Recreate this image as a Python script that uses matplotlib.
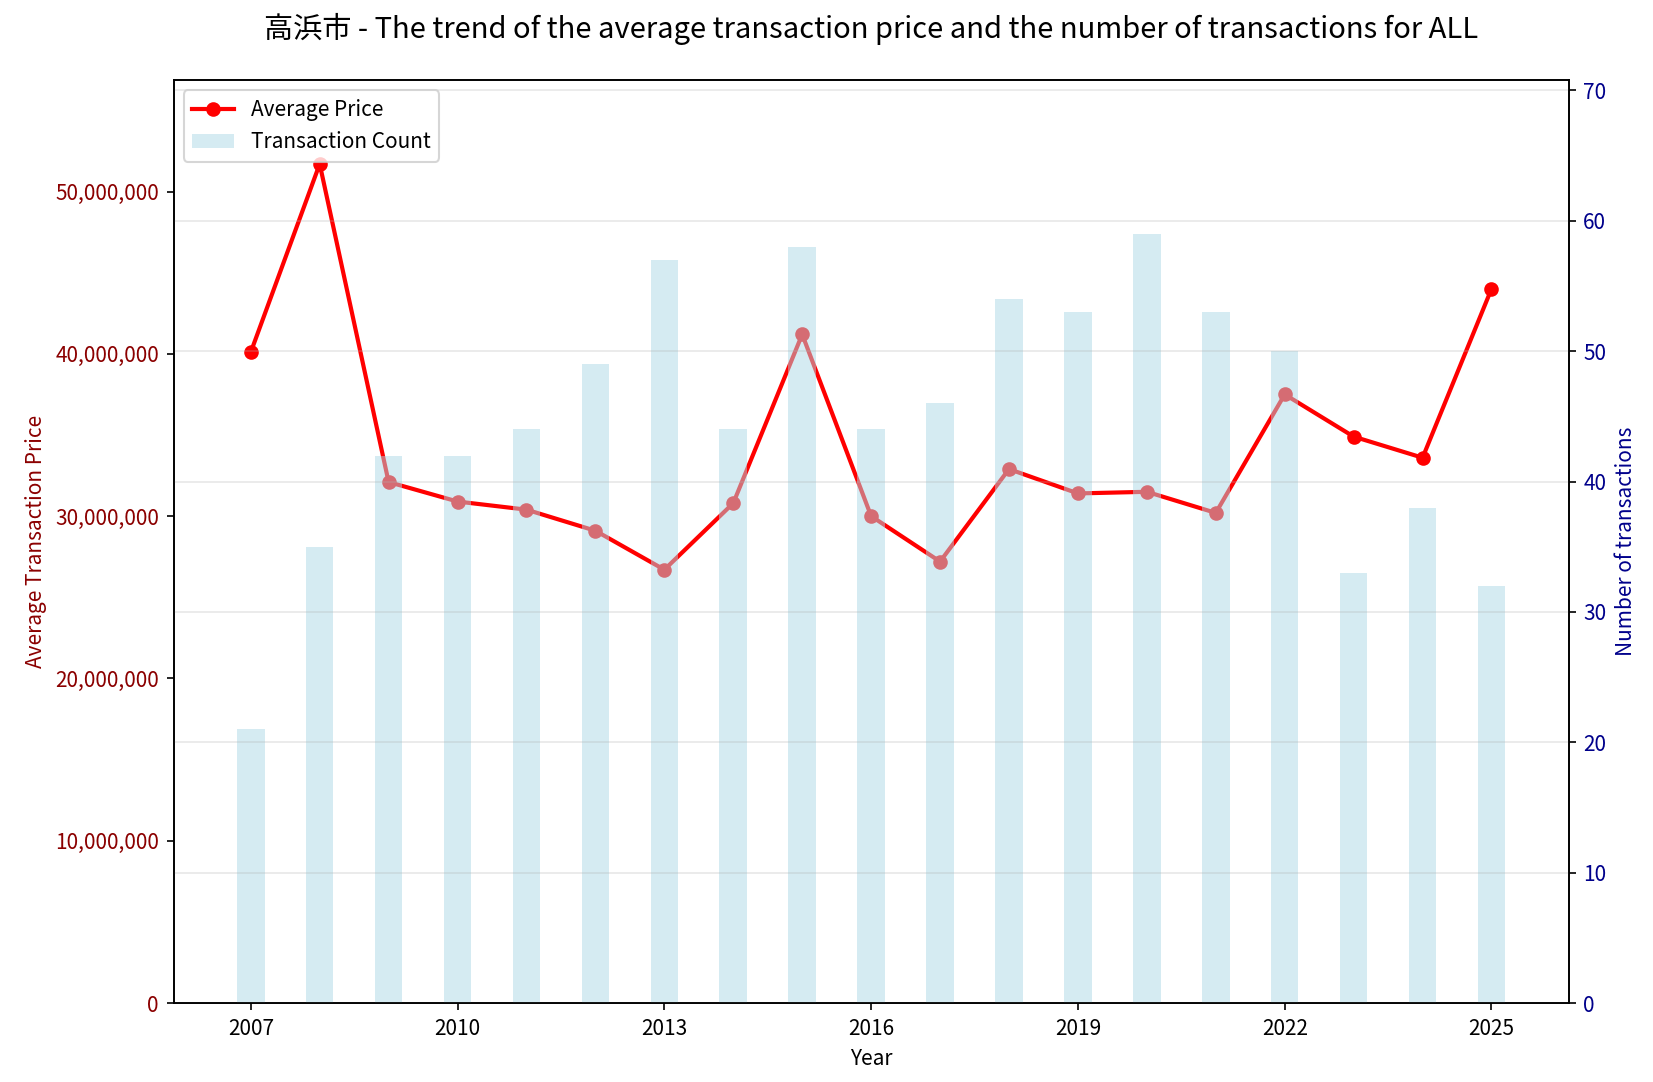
import matplotlib
matplotlib.use('Agg')
import matplotlib.pyplot as plt
from matplotlib.ticker import FuncFormatter

plt.rcParams['font.family'] = ['Noto Sans CJK JP', 'DejaVu Sans']

years = list(range(2007, 2026))
avg_price = [40100000, 51700000, 32100000, 30900000, 30400000, 29100000, 26700000,
             30800000, 41200000, 30000000, 27200000, 32900000, 31400000, 31500000,
             30200000, 37500000, 34900000, 33600000, 44000000]
counts = [21, 35, 42, 42, 44, 49, 57, 44, 58, 44, 46, 54, 53, 59, 53, 50, 33, 38, 32]

fig, ax1 = plt.subplots(figsize=(1653 / 150, 1082 / 150), dpi=150)
fig.subplots_adjust(left=0.105, right=0.949, top=0.926, bottom=0.073)

# price line on the left axis
line, = ax1.plot(years, avg_price, color='red', marker='o', linewidth=2,
                 markersize=6, label='Average Price')
ax1.set_xlabel('Year')
ax1.set_ylabel('Average Transaction Price', color='darkred')
ax1.tick_params(axis='y', labelcolor='darkred')
ax1.yaxis.set_major_formatter(FuncFormatter(lambda v, p: '{:,.0f}'.format(v)))
ax1.set_ylim(0, max(avg_price) * 1.1)

# counts as bars on the right axis
ax2 = ax1.twinx()
bars = ax2.bar(years, counts, width=0.4, color='lightblue', alpha=0.5,
               label='Transaction Count')
ax2.set_ylabel('Number of transactions', color='darkblue')
ax2.tick_params(axis='y', labelcolor='darkblue')
ax2.set_ylim(0, max(counts) * 1.2)
ax2.grid(axis='y', alpha=0.3)

ax1.set_xticks(list(range(2007, 2026, 3)))

ax2.legend([line, bars], ['Average Price', 'Transaction Count'], loc='upper left')

ax1.set_title('高浜市 - The trend of the average transaction price and the number of transactions for ALL',
              fontsize=14, pad=20)

plt.savefig('out.png', dpi=150)
